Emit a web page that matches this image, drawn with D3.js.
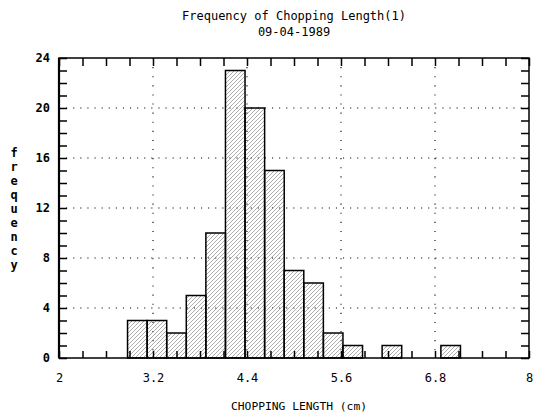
<!DOCTYPE html>
<html>
<head>
<meta charset="utf-8">
<script src="https://d3js.org/d3.v7.min.js"></script>
<style>
  body { margin: 0; background: #fff; }
  text { font-family: "DejaVu Sans Mono", monospace; fill: #000; }
</style>
</head>
<body>
<div id="chart"></div>
<script>
// bin centers (cm), bin width 0.25
var binCenters = [3.0, 3.25, 3.5, 3.75, 4.0, 4.25, 4.5, 4.75, 5.0, 5.25, 5.5, 5.75, 6.0, 6.25, 6.5, 6.75, 7.0];
var counts     = [3,   3,    2,   5,    10,  23,   20,  15,   7,   6,    2,   1,    0,   1,    0,   0,    1];
var binWidth = 0.25;
var xLabels = [2, 3.2, 4.4, 5.6, 6.8, 8];
var yLabels = [0, 4, 8, 12, 16, 20, 24];

var W = 533, H = 416;
var margin = {top: 58, right: 4, bottom: 58, left: 59};
var width = W - margin.left - margin.right,
    height = H - margin.top - margin.bottom;

var svg = d3.select("#chart").append("svg")
  .attr("width", W).attr("height", H);

// hatch pattern
svg.append("defs").append("pattern")
  .attr("id", "hatch")
  .attr("patternUnits", "userSpaceOnUse")
  .attr("width", 4).attr("height", 4)
  .append("path")
  .attr("d", "M-1,1 l2,-2 M0,4 l4,-4 M3,5 l2,-2")
  .attr("stroke", "#8a8a8a").attr("stroke-width", 0.7);

var g = svg.append("g")
  .attr("transform", "translate(" + margin.left + "," + margin.top + ")");

var x = d3.scaleLinear().domain([2, 8]).range([0, width]);
var y = d3.scaleLinear().domain([0, 24]).range([height, 0]);

// dotted grid
g.append("g").selectAll("line.h")
  .data(yLabels.filter(function(d) { return d > 0 && d < 24; }))
  .enter().append("line")
  .attr("x1", 0).attr("x2", width)
  .attr("y1", function(d) { return y(d); }).attr("y2", function(d) { return y(d); })
  .attr("stroke", "#000").attr("stroke-width", 1.1)
  .attr("stroke-dasharray", "1.1,6");

g.append("g").selectAll("line.v")
  .data(xLabels.filter(function(d) { return d > 2 && d < 8; }))
  .enter().append("line")
  .attr("y1", 0).attr("y2", height)
  .attr("x1", function(d) { return x(d); }).attr("x2", function(d) { return x(d); })
  .attr("stroke", "#000").attr("stroke-width", 1.1)
  .attr("stroke-dasharray", "1.1,8");

// bars
g.append("g").selectAll("rect")
  .data(binCenters.map(function(c, i) { return {c: c, n: counts[i]}; })
        .filter(function(d) { return d.n > 0; }))
  .enter().append("rect")
  .attr("x", function(d) { return x(d.c - binWidth / 2); })
  .attr("width", function(d) { return x(d.c + binWidth / 2) - x(d.c - binWidth / 2); })
  .attr("y", function(d) { return y(d.n); })
  .attr("height", function(d) { return height - y(d.n); })
  .attr("fill", "url(#hatch)")
  .attr("stroke", "#000").attr("stroke-width", 1.5);

// ticks
var xMinor = d3.range(0, 21).map(function(i) { return +(2 + i * 0.3).toFixed(1); });
var yMinor = d3.range(0, 25);

g.append("g").attr("transform", "translate(0," + height + ")")
  .call(d3.axisBottom(x).tickValues(xMinor).tickSize(-7).tickPadding(15)
    .tickFormat(function(d) { return xLabels.indexOf(d) >= 0 ? d3.format("")(d) : ""; }))
  .call(function(a) { a.select(".domain").remove(); a.selectAll("text").attr("font-size", "12px").style("font-family", "DejaVu Sans Mono"); });

g.append("g")
  .call(d3.axisTop(x).tickValues(xMinor).tickSize(-8).tickFormat(""))
  .call(function(a) { a.select(".domain").remove(); });

g.append("g")
  .call(d3.axisLeft(y).tickValues(yMinor).tickSize(-8).tickPadding(9)
    .tickFormat(function(d) { return d % 4 === 0 ? d : ""; }))
  .call(function(a) { a.select(".domain").remove(); a.selectAll("text").attr("font-size", "12px").attr("font-weight", "bold").style("font-family", "DejaVu Sans Mono"); });

g.append("g").attr("transform", "translate(" + width + ",0)")
  .call(d3.axisRight(y).tickValues(yMinor).tickSize(-8).tickFormat(""))
  .call(function(a) { a.select(".domain").remove(); });

g.selectAll(".tick line").attr("stroke-width", 1.5);

// frame
g.append("rect")
  .attr("width", width).attr("height", height)
  .attr("fill", "none").attr("stroke", "#000").attr("stroke-width", 1.5);
g.append("line").attr("x1", 0).attr("x2", 0).attr("y1", 0).attr("y2", height)
  .attr("stroke", "#000").attr("stroke-width", 2.2);

// titles
svg.append("text").attr("x", margin.left + width / 2).attr("y", 20)
  .attr("text-anchor", "middle").attr("font-size", "12px")
  .text("Frequency of Chopping Length(1)");
svg.append("text").attr("x", margin.left + width / 2).attr("y", 36)
  .attr("text-anchor", "middle").attr("font-size", "12px")
  .text("09-04-1989");

svg.append("text").attr("x", margin.left + width / 2 + 5).attr("y", 410)
  .attr("text-anchor", "middle").attr("font-size", "11.3px")
  .text("CHOPPING LENGTH (cm)");

// stacked y label
svg.append("g").selectAll("text")
  .data("frequency".split(""))
  .enter().append("text")
  .attr("x", 14)
  .attr("y", function(d, i) { return 157 + i * 14; })
  .attr("text-anchor", "middle").attr("font-size", "12px").attr("font-weight", "bold")
  .text(function(d) { return d; });
</script>
</body>
</html>
